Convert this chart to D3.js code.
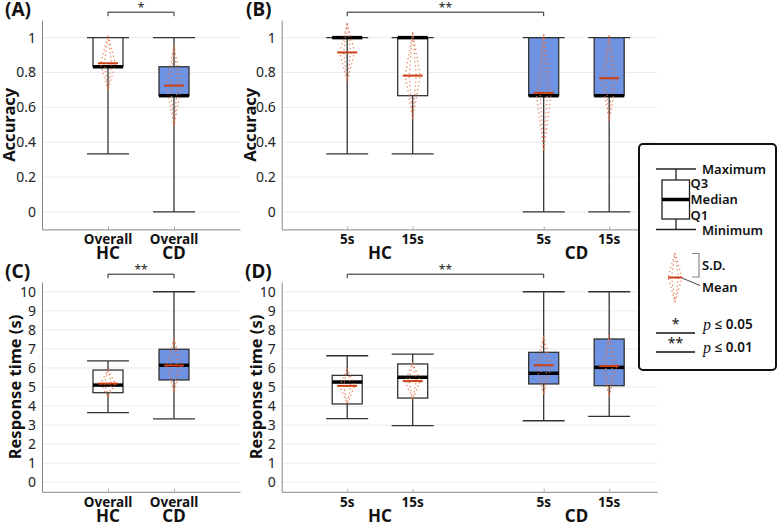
<!DOCTYPE html>
<html><head><meta charset="utf-8">
<script src="https://cdn.jsdelivr.net/npm/d3@7"></script>
<style>
body{margin:0;background:#fff;}
svg text{font-family:"Noto Sans","Open Sans",sans-serif;}
</style></head>
<body><svg id="c" width="779" height="523"></svg>
<script>
// ---------- DATA ----------
const overallGroups = ["HC", "CD"];
const condLabels = ["5s", "15s"];

const accTicks = [0, 0.2, 0.4, 0.6, 0.8, 1];
const rtTicks = [0, 1, 2, 3, 4, 5, 6, 7, 8, 9, 10];

// Accuracy, overall
const accOverallMin  = [0.333, 0];
const accOverallQ1   = [0.833, 0.667];
const accOverallMed  = [0.833, 0.667];
const accOverallQ3   = [1, 0.833];
const accOverallMax  = [1, 1];
const accOverallMean = [0.853, 0.725];
const accOverallSD   = [0.157, 0.233];

// Accuracy, per condition (HC 5s, HC 15s, CD 5s, CD 15s)
const accCondMin  = [0.333, 0.333, 0, 0];
const accCondQ1   = [1, 0.667, 0.667, 0.667];
const accCondMed  = [1, 1, 0.667, 0.667];
const accCondQ3   = [1, 1, 1, 1];
const accCondMax  = [1, 1, 1, 1];
const accCondMean = [0.915, 0.782, 0.683, 0.767];
const accCondSD   = [0.167, 0.247, 0.335, 0.245];

// Response time, overall
const rtOverallMin  = [3.65, 3.33];
const rtOverallQ1   = [4.70, 5.37];
const rtOverallMed  = [5.10, 6.14];
const rtOverallQ3   = [5.89, 6.98];
const rtOverallMax  = [6.37, 10];
const rtOverallMean = [5.18, 6.13];
const rtOverallSD   = [0.71, 1.42];

// Response time, per condition
const rtCondMin  = [3.34, 2.97, 3.23, 3.46];
const rtCondQ1   = [4.11, 4.42, 5.16, 5.07];
const rtCondMed  = [5.26, 5.51, 5.72, 6.03];
const rtCondQ3   = [5.61, 6.21, 6.82, 7.52];
const rtCondMax  = [6.64, 6.73, 10, 10];
const rtCondMean = [5.06, 5.31, 6.14, 6.10];
const rtCondSD   = [0.93, 0.95, 1.55, 1.62];

// ---------- DRAW ----------
const svg = d3.select("#c");
const BLUE = "#6d93e2", MEANC = "#cc3f14", SDC = "#e4724a", STROKE = "#333";

function buildItems(min,q1,med,q3,max,mean,sd, perCond){
  const items = [];
  if(!perCond){
    overallGroups.forEach((g,i)=>items.push({g, top:"Overall", bottom:g, slot:i+1,
      min:min[i],q1:q1[i],med:med[i],q3:q3[i],max:max[i],mean:mean[i],sd:sd[i]}));
  } else {
    let k=0;
    overallGroups.forEach((g,gi)=>condLabels.forEach((c,ci)=>{
      items.push({g, top:c, slot:gi*3+ci+1,
        min:min[k],q1:q1[k],med:med[k],q3:q3[k],max:max[k],mean:mean[k],sd:sd[k]});
      k++;
    }));
  }
  return items;
}

function panel(o){
  const g = svg.append("g");
  const x = d3.scaleLinear().domain(o.xDomain).range([o.left, o.right]);
  const y = d3.scaleLinear().domain(o.yDomain).range([o.bottom, o.top]);
  // grid
  g.selectAll(".grid").data(o.ticks).join("line")
    .attr("x1", o.left).attr("x2", o.right)
    .attr("y1", d=>y(d)).attr("y2", d=>y(d))
    .attr("stroke", "#ebebeb").attr("stroke-width", 1);
  // y axis
  const ya = g.append("g").attr("transform", `translate(${o.left},0)`)
    .call(d3.axisLeft(y).tickValues(o.ticks).tickSize(0).tickSizeOuter(0).tickPadding(6)
      .tickFormat(d=>d3.format("~g")(d)));
  ya.select(".domain").attr("stroke", "#888");
  ya.selectAll("text").attr("font-size", 14).attr("fill", "#222");
  // x axis
  const xa = g.append("g").attr("transform", `translate(0,${o.bottom})`)
    .call(d3.axisBottom(x).tickValues(o.items.map(d=>d.slot)).tickSize(-3).tickSizeOuter(0).tickFormat(""));
  xa.select(".domain").attr("stroke", "#888");
  xa.selectAll(".tick line").attr("stroke", "#aaa");
  // y label
  g.append("text").attr("transform", `translate(${o.ylabX},${(o.top+o.bottom)/2}) rotate(-90)`)
    .attr("text-anchor","middle").attr("font-size",16.5).attr("font-weight","bold").attr("fill","#111")
    .text(o.ylabel);
  // panel label
  g.append("text").attr("x", o.tagX).attr("y", o.top-4).attr("font-size",19).attr("font-weight","bold")
    .attr("fill","#111").text(o.tag);

  const capW = 21, boxW = 15, meanW = 10;
  const b = g.selectAll(".box").data(o.items).join("g");
  b.append("line").attr("x1", d=>x(d.slot)).attr("x2", d=>x(d.slot))
    .attr("y1", d=>y(d.min)).attr("y2", d=>y(d.max)).attr("stroke", STROKE).attr("stroke-width",1.3);
  b.append("line").attr("x1", d=>x(d.slot)-capW).attr("x2", d=>x(d.slot)+capW)
    .attr("y1", d=>y(d.max)).attr("y2", d=>y(d.max)).attr("stroke", STROKE).attr("stroke-width",1.3);
  b.append("line").attr("x1", d=>x(d.slot)-capW).attr("x2", d=>x(d.slot)+capW)
    .attr("y1", d=>y(d.min)).attr("y2", d=>y(d.min)).attr("stroke", STROKE).attr("stroke-width",1.3);
  b.append("rect").attr("x", d=>x(d.slot)-boxW).attr("width", boxW*2)
    .attr("y", d=>y(d.q3)).attr("height", d=>Math.max(0.01, y(d.q1)-y(d.q3)))
    .attr("fill", d=>d.g==="CD"?BLUE:"#fff").attr("stroke", STROKE).attr("stroke-width",1.3);
  b.append("line").attr("x1", d=>x(d.slot)-boxW).attr("x2", d=>x(d.slot)+boxW)
    .attr("y1", d=>y(d.med)).attr("y2", d=>y(d.med)).attr("stroke", "#000").attr("stroke-width",3.5);
  // SD diamonds
  [7.5, 3.5].forEach(hw=>{
    b.append("path").attr("d", d=>{
      const cx=x(d.slot);
      return `M${cx},${y(d.mean+d.sd)} L${cx+hw},${y(d.mean)} L${cx},${y(d.mean-d.sd)} L${cx-hw},${y(d.mean)} Z`;
    }).attr("fill","none").attr("stroke",SDC).attr("stroke-width",1.3).attr("stroke-dasharray","1.3 2.8").attr("opacity",0.85);
  });
  b.append("line").attr("x1", d=>x(d.slot)-meanW).attr("x2", d=>x(d.slot)+meanW)
    .attr("y1", d=>y(d.mean)).attr("y2", d=>y(d.mean)).attr("stroke", MEANC).attr("stroke-width",2);

  // x labels
  g.selectAll(".xl1").data(o.items).join("text").attr("x", d=>x(d.slot)).attr("y", o.bottom+15)
    .attr("text-anchor","middle").attr("font-size",13.5).attr("font-weight","bold").attr("fill","#111").text(d=>d.top);
  if(!o.perCond){
    g.selectAll(".xl2").data(o.items).join("text").attr("x", d=>x(d.slot)).attr("y", o.bottom+30)
      .attr("text-anchor","middle").attr("font-size",17).attr("font-weight","bold").attr("fill","#111").text(d=>d.bottom);
  } else {
    overallGroups.forEach(gr=>{
      const its = o.items.filter(d=>d.g===gr);
      g.append("text").attr("x", x(d3.mean(its, d=>d.slot))).attr("y", o.bottom+30)
        .attr("text-anchor","middle").attr("font-size",17).attr("font-weight","bold").attr("fill","#111").text(gr);
    });
  }
  // significance bracket
  const a = o.items[o.sig[0]], c = o.items[o.sig[1]];
  const by = o.top-8;
  g.append("path").attr("d", `M${x(a.slot)},${by+4} V${by} H${x(c.slot)} V${by+4}`)
    .attr("fill","none").attr("stroke","#222").attr("stroke-width",1);
  g.append("text").attr("x", (x(a.slot)+x(c.slot))/2).attr("y", by)
    .attr("text-anchor","middle").attr("font-size",12).attr("fill","#222").text(o.sigText);
}

const accOverall = buildItems(accOverallMin,accOverallQ1,accOverallMed,accOverallQ3,accOverallMax,accOverallMean,accOverallSD,false);
const accCond = buildItems(accCondMin,accCondQ1,accCondMed,accCondQ3,accCondMax,accCondMean,accCondSD,true);
const rtOverall = buildItems(rtOverallMin,rtOverallQ1,rtOverallMed,rtOverallQ3,rtOverallMax,rtOverallMean,rtOverallSD,false);
const rtCond = buildItems(rtCondMin,rtCondQ1,rtCondMed,rtCondQ3,rtCondMax,rtCondMean,rtCondSD,true);

panel({items:accOverall, perCond:false, left:42, right:240, top:20.2, bottom:229.4, xDomain:[0,3], yDomain:[-0.1,1.1],
  ticks:accTicks, ylabel:"Accuracy", ylabX:15, tag:"(A)", tagX:5, sig:[0,1], sigText:"*"});
panel({items:accCond, perCond:true, left:281.7, right:657, top:20.2, bottom:229.4, xDomain:[0,5.73], yDomain:[-0.1,1.1],
  ticks:accTicks, ylabel:"Accuracy", ylabX:256, tag:"(B)", tagX:246, sig:[0,2], sigText:"**"});
panel({items:rtOverall, perCond:false, left:42, right:240, top:282.2, bottom:491.8, xDomain:[0,3], yDomain:[-0.5,10.5],
  ticks:rtTicks, ylabel:"Response time (s)", ylabX:21, tag:"(C)", tagX:5, sig:[0,1], sigText:"**"});
panel({items:rtCond, perCond:true, left:281.7, right:657, top:282.2, bottom:491.8, xDomain:[0,5.73], yDomain:[-0.5,10.5],
  ticks:rtTicks, ylabel:"Response time (s)", ylabX:262, tag:"(D)", tagX:245, sig:[0,2], sigText:"**"});

// ---------- LEGEND ----------
const L = svg.append("g");
L.append("rect").attr("x",639).attr("y",144).attr("width",137).attr("height",226).attr("rx",4)
  .attr("fill","#fff").attr("stroke","#111").attr("stroke-width",2);
const lt = (x,y,t)=>L.append("text").attr("x",x).attr("y",y).attr("font-size",13)
  .attr("font-weight",600).attr("fill","#111").attr("dominant-baseline","central").text(t);
L.append("line").attr("x1",656).attr("x2",696).attr("y1",169).attr("y2",169).attr("stroke","#222").attr("stroke-width",1.3);
L.append("line").attr("x1",656).attr("x2",696).attr("y1",229.5).attr("y2",229.5).attr("stroke","#222").attr("stroke-width",1.3);
L.append("line").attr("x1",676).attr("x2",676).attr("y1",169).attr("y2",229.5).attr("stroke","#222").attr("stroke-width",1.3);
L.append("rect").attr("x",662).attr("y",180).attr("width",27.5).attr("height",39).attr("fill","#fff").attr("stroke","#222").attr("stroke-width",1.3);
L.append("line").attr("x1",662).attr("x2",689.5).attr("y1",199.5).attr("y2",199.5).attr("stroke","#000").attr("stroke-width",3.5);
lt(702,169,"Maximum"); lt(690.5,183,"Q3"); lt(690.5,199,"Median"); lt(690.5,215,"Q1"); lt(702,229.5,"Minimum");
// SD diamond
[7, 3.5].forEach(hw=>{
  L.append("path").attr("d",`M675,253 L${675+hw},277.5 L675,302 L${675-hw},277.5 Z`)
    .attr("fill","none").attr("stroke",SDC).attr("stroke-width",1.3).attr("stroke-dasharray","1.3 2.8").attr("opacity",0.85);
});
L.append("line").attr("x1",668).attr("x2",682).attr("y1",277.5).attr("y2",277.5).attr("stroke",MEANC).attr("stroke-width",2);
L.append("path").attr("d","M692,253.5 H699 V277 H692").attr("fill","none").attr("stroke","#888").attr("stroke-width",1.2);
L.append("line").attr("x1",682).attr("y1",278).attr("x2",700).attr("y2",285.5).attr("stroke","#444").attr("stroke-width",1);
lt(702,264.5,"S.D."); lt(702,287,"Mean");
// significance keys
L.append("line").attr("x1",656).attr("x2",695).attr("y1",333).attr("y2",333).attr("stroke","#111").attr("stroke-width",1.3);
L.append("line").attr("x1",656).attr("x2",695).attr("y1",352).attr("y2",352).attr("stroke","#111").attr("stroke-width",1.3);
L.append("text").attr("x",675.5).attr("y",329).attr("text-anchor","middle").attr("font-size",14).attr("fill","#111").text("*");
L.append("text").attr("x",675.5).attr("y",348).attr("text-anchor","middle").attr("font-size",14).attr("fill","#111").text("**");
[["0.05",323.5],["0.01",346.5]].forEach(([v,yy])=>{
  const t = L.append("text").attr("x",703).attr("y",yy).attr("dominant-baseline","central").attr("font-size",13.5).attr("fill","#111");
  t.append("tspan").attr("font-family","'Liberation Serif','DejaVu Serif',serif").attr("font-style","italic").attr("font-size",16).text("p");
  t.append("tspan").attr("font-weight",600).text(" \u2264 "+v);
});
</script></body></html>
